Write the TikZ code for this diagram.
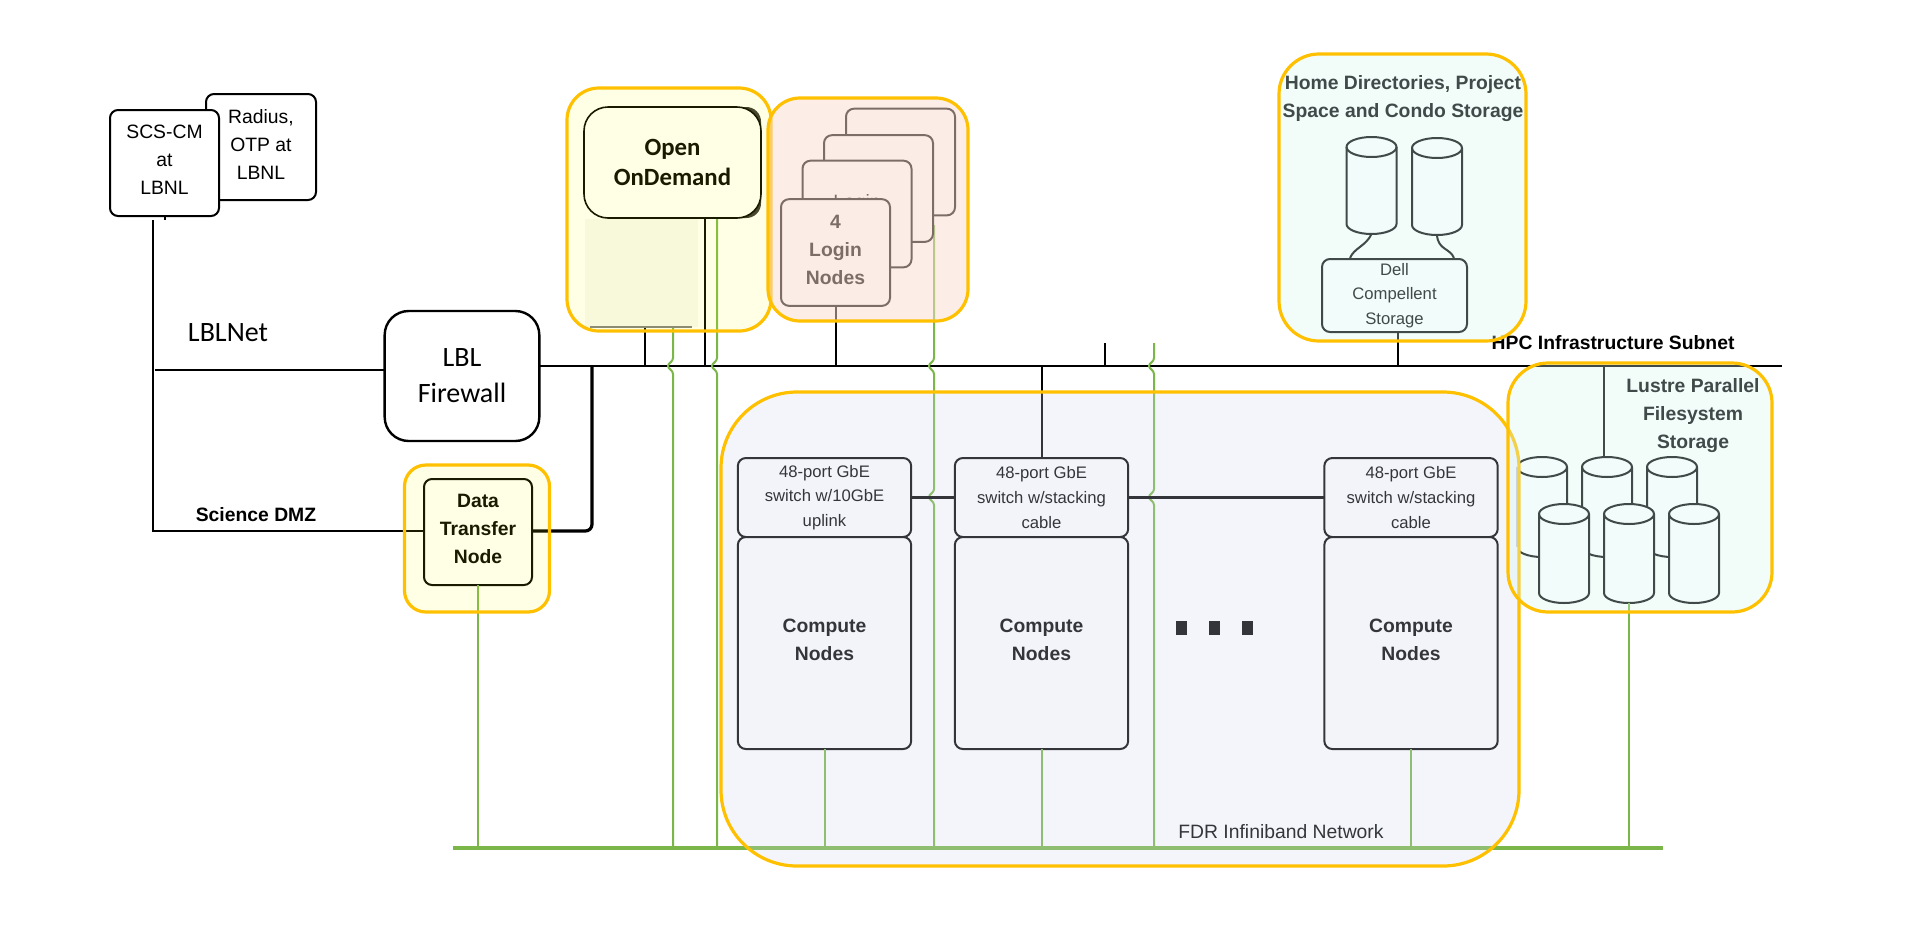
\documentclass[tikz,border=0pt]{standalone}
\usepackage{fontspec}
\setmainfont{Liberation Sans}
\newfontfamily\calibri{Carlito}
\definecolor{linkgreen}{HTML}{7AB648}
\definecolor{ringorange}{HTML}{FFC000}
\definecolor{cellblue}{HTML}{CFD7EB}
\definecolor{cellyellow}{HTML}{FFFF00}
\definecolor{cellrose}{HTML}{F9DBCD}
\definecolor{cellmint}{HTML}{D5F7F0}
\tikzset{
  labelfont/.style={align=center,font=\fontsize{14.5}{21}\selectfont},
  boldfont/.style={align=center,font=\fontsize{14.5}{21}\selectfont\bfseries},
  smallfont/.style={align=center,font=\fontsize{12.5}{18.4}\selectfont},
  box/.style={draw,line width=1.5pt,rounded corners=6,fill=white,inner sep=0pt,outer sep=0pt,align=center},
  drumline/.style={draw,line width=1.5pt,fill=white},
  ring/.style={draw=ringorange,line width=2.4pt,rounded corners=#1,inner sep=0pt,outer sep=0pt},
  wire/.style={line width=1.5pt},
  greenline/.style={linkgreen,line width=1.5pt},
}
% vertical green link jumping over a horizontal line
\newcommand{\hop}[2]{-- (#1,#2-8) .. controls (#1,#2-4) and (#1-5,#2-3) .. (#1-5,#2) .. controls (#1-5,#2+3) and (#1,#2+4) .. (#1,#2+8)}
% name, centre x, y of top ellipse, y where the sides end
\newcommand{\drum}[4]{
  \node[minimum width=37.5pt,minimum height={(#4-#3+20)*0.75pt},inner sep=0pt,outer sep=0pt] (#1) at (#2,{(#3+#4)/2}) {};
  \draw[drumline] (#2-25,#3) .. controls (#2-25,#3-5.5) and (#2-13.8,#3-10) .. (#2,#3-10) .. controls (#2+13.8,#3-10) and (#2+25,#3-5.5) .. (#2+25,#3)
    -- (#2+25,#4) .. controls (#2+25,#4+5.5) and (#2+13.8,#4+10) .. (#2,#4+10) .. controls (#2-13.8,#4+10) and (#2-25,#4+5.5) .. (#2-25,#4) -- cycle;
  \draw[line width=1.5pt] (#2-25,#3) .. controls (#2-25,#3+5.5) and (#2-13.8,#3+10) .. (#2,#3+10) .. controls (#2+13.8,#3+10) and (#2+25,#3+5.5) .. (#2+25,#3);
}
\begin{document}
\begin{tikzpicture}[x=0.75pt,y=-0.75pt]
\useasboundingbox (0,0) rectangle (1906,929);
\coordinate (netL) at (539,366);
\coordinate (netR) at (1782,366);
\coordinate (fabL) at (453,848);
\coordinate (fabR) at (1663,848);
\coordinate (ibA) at (673,366);
\coordinate (ibB) at (717,366);
\coordinate (ibC) at (934,225);
\coordinate (ibD) at (1154,343);
\coordinate (stubA) at (645,366);
\coordinate (stubB) at (1105,343);
\coordinate (stubC) at (1398,366);
\coordinate (stubD) at (1604,366);
\coordinate (dmzL) at (153,531);
\coordinate (lanL) at (153,220);
\coordinate (branch) at (592,366);
% hosts at the laboratory
\node[box,minimum width=82.5pt,minimum height=79.5pt] (radius) at (261,147) {};
\node[labelfont] (radiustext) at (261,144) {Radius,\\OTP at\\LBNL};
\node[box,minimum width=81.75pt,minimum height=79.5pt] (scs) at (164.5,163) {};
\node[labelfont] (scstext) at (164.5,160) {SCS-CM\\at\\LBNL};
\node[draw,line width=1.8pt,rounded corners=18,inner sep=0pt,outer sep=0pt,fill=white,minimum width=116pt,minimum height=97.5pt,align=center,font=\calibri\fontsize{21}{27}\selectfont] (firewall) at (462,376) {LBL\\Firewall};
\node[font=\calibri\fontsize{21}{25}\selectfont] (lblnet) at (228,333) {LBLNet};
\node[boldfont] (dmz) at (256,515) {Science DMZ};
\node[boldfont,right] (subnet) at (1487,343) {HPC Infrastructure Subnet};
% green fabric and links
\draw[linkgreen,line width=3.4pt] (fabL)--(fabR);
\draw[wire] (netL)--(netR);
\draw[greenline] (ibA |- 0,327) \hop{673}{366} -- (ibA |- fabL);
\draw[greenline] (ibB |- 0,218) \hop{717}{366} -- (ibB |- fabL);
\draw[greenline] (ibC) \hop{934}{366} \hop{934}{497} -- (ibC |- fabL);
\draw[greenline] (ibD) \hop{1154}{366} \hop{1154}{497} -- (ibD |- fabL);
% connections on the left
\draw[wire] (lanL)--(lanL |- dmzL);
\draw[line width=2pt] (153,465)--(dmzL)--(424,531);
\draw[wire] (155,370)--(firewall.west |- 0,370);
\draw[line width=2.4pt,rounded corners=5] (532,531)--(branch |- dmzL)--(branch);
\draw[wire] (scs.south)--(164.5,220);
\draw[wire] (stubA |- 0,327)--(stubA);
\draw[wire] (705,218)--(705,366);
\draw[wire] (stubB)--(stubB |- netL);
\node[box,minimum width=81pt,minimum height=79.5pt] (dtn) at (478,532) {};
\node[boldfont] (dtntext) at (478,528.5) {Data\\Transfer\\Node};
\draw[greenline] (dtn.south)--(dtn.south |- fabL);
% open ondemand
\fill[black!80,rounded corners=11] (700,107) rectangle (761,218);
\node[draw,line width=1.2pt,rounded corners=18,fill=white,inner sep=0pt,outer sep=0pt,minimum width=132.75pt,minimum height=83.25pt,align=center,font=\calibri\bfseries\fontsize{18.6}{22}\selectfont] (ood) at (672.5,162.5) {Open\\OnDemand};
\node[fill={rgb,255:red,248;green,249;blue,244},minimum width=84.75pt,minimum height=81pt,inner sep=0pt,outer sep=0pt] (oodshade) at (641.5,273) {};
\draw[gray,line width=.8pt] (590,327)--(692,327);
% login nodes
\foreach \nm/\cx/\cy in {loginD/900.5/162,loginC/878.5/188.5,loginB/857/214}
  \node[box,minimum width=81.75pt,minimum height=80pt] (\nm) at (\cx,\cy) {};
\node[font=\fontsize{14.5}{21}\selectfont] (ghost) at (857,203) {Login};
\node[box,minimum width=81.75pt,minimum height=80pt] (loginA) at (835.5,252.5) {};
\node[boldfont] (logintext) at (835.5,249.5) {4\\Login\\Nodes};
\draw[wire] (loginA.south)--(loginA.south |- netL);
% compute blocks
\foreach \nm/\cx/\txt in {one/824.5/10GbE\\uplink,two/1041.5/stacking\\cable,three/1411/stacking\\cable}{
  \node[box,smallfont,minimum width=130pt,minimum height=59.25pt] (sw\nm) at (\cx,497.5) {48-port GbE\\switch w/\txt};
  \node[box,minimum width=130pt,minimum height=159pt] (cn\nm) at (\cx,643) {};
  \node[boldfont] (cntext\nm) at (\cx,640) {Compute\\Nodes};
  \draw[greenline] (cn\nm.south)--(cn\nm.south |- fabL);
}
\draw[line width=2.2pt] (swone.east)--(swtwo.west);
\draw[line width=2.2pt] (swtwo.east)--(swthree.west);
\draw[wire] (swtwo.north)--(swtwo.north |- netL);
\foreach \nm/\dx in {dotA/1181,dotB/1214,dotC/1247}
  \node[fill=black,inner sep=0pt,minimum width=8.25pt,minimum height=10.5pt] (\nm) at (\dx,628) {};
\node[font=\fontsize{14.5}{18}\selectfont] (fdr) at (1281,832) {FDR Infiniband Network};
% home storage
\node[box,smallfont,minimum width=108.75pt,minimum height=54.75pt] (dell) at (1394.5,295.5) {Dell\\Compellent\\Storage};
\drum{homeA}{1371.5}{147}{224}
\drum{homeB}{1437}{148}{225}
\draw[wire] (homeA.south) .. controls (1366,246) and (1354,248) .. (1350,258);
\draw[wire] (homeB.south) .. controls (1438,250) and (1450,248) .. (1454,258);
\draw[wire] (dell.south -| stubC)--(stubC);
\node[boldfont] (hometext) at (1403,98.5) {Home Directories, Project\\Space and Condo Storage};
% lustre storage
\begin{scope}
\clip (1520,440) rectangle (1600,570);
\drum{lusA}{1542}{467}{547}
\end{scope}
\draw[gray!50,line width=.8pt] (1517,467)--(1517,547);
\drum{lusB}{1607}{467}{547}
\drum{lusC}{1672}{467}{547}
\foreach \nm/\cx in {lusD/1564,lusE/1629,lusF/1694}
  {\drum{\nm}{\cx}{514}{593}}
\draw[wire] (lusB.north -| stubD)--(stubD);
\draw[greenline] (lusE.south)--(lusE.south |- fabL);
\node[boldfont] (lustretext) at (1693,415.5) {Lustre Parallel\\Filesystem\\Storage};
% coloured rings laid over everything
\node[ring=57,fill=cellblue,fill opacity=.25,minimum width=598.5pt,minimum height=355.5pt] (fabric) at (1120,629) {};
\node[ring=24,fill=cellyellow,fill opacity=.1,minimum width=153pt,minimum height=182.25pt] (oodring) at (669,209.5) {};
\node[ring=24,fill=cellrose,fill opacity=.5,minimum width=150pt,minimum height=167.25pt] (loginring) at (868,209.5) {};
\node[ring=16,fill=cellyellow,fill opacity=.1,minimum width=108.75pt,minimum height=110.25pt] (dtnring) at (477,538.5) {};
\node[ring=30,fill=cellmint,fill opacity=.3,minimum width=185.25pt,minimum height=215.25pt] (homering) at (1402.5,197.5) {};
\node[ring=30,fill=cellmint,fill opacity=.3,minimum width=198pt,minimum height=186.75pt] (lustrering) at (1640,487.5) {};
\end{tikzpicture}
\end{document}
